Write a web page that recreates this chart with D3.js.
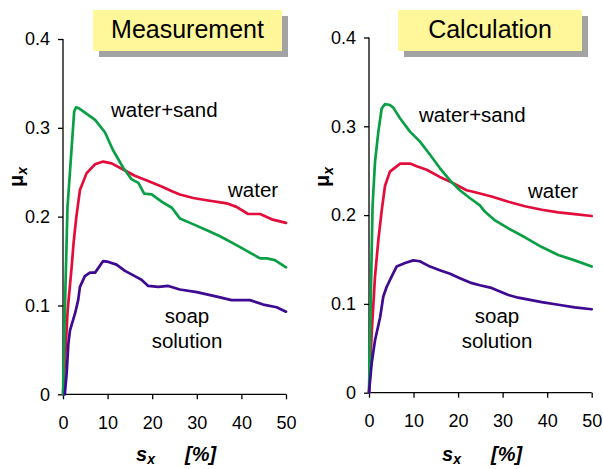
<!DOCTYPE html>
<html>
<head>
<meta charset="utf-8">
<script src="https://cdn.jsdelivr.net/npm/d3@7"></script>
<style>
  html, body { margin: 0; padding: 0; background: #fff; }
  svg { display: block; font-family: "Liberation Sans", Arial, sans-serif; }
</style>
</head>
<body>
<svg id="chart" width="603" height="469"></svg>
<script>
// ── Data (s_x in %, mu_x) ────────────────────────────────────────────────

var xTicks = [0, 10, 20, 30, 40, 50];
var yTicks = [0, 0.1, 0.2, 0.3, 0.4];

var measWaterSand = [[0,0],[0.5,0.11],[1.0,0.21],[2.5,0.318],[2.9,0.323],[3.6,0.322],[7.2,0.309],[9.4,0.295],[11.2,0.275],[13.5,0.255],[15.4,0.242],[16.9,0.238],[18.2,0.226],[19.9,0.225],[22.1,0.217],[24.4,0.210],[26.2,0.198],[28.5,0.193],[33.0,0.183],[35.2,0.178],[38.9,0.168],[44.2,0.153],[45.7,0.153],[47.5,0.151],[50,0.143]];
var measWater = [[0,0],[0.3,0.024],[1.05,0.095],[1.95,0.144],[2.4,0.172],[3.0,0.200],[3.8,0.230],[5.3,0.249],[7.2,0.259],[9.0,0.262],[10.9,0.260],[13.9,0.252],[16.1,0.246],[19.1,0.240],[22.1,0.234],[24.7,0.228],[26.2,0.225],[29.2,0.221],[31.5,0.219],[36.7,0.215],[38.9,0.211],[41.5,0.203],[44.2,0.203],[46.8,0.197],[50,0.193]];
var measSoap = [[0.4,0],[0.83,0.024],[1.2,0.057],[1.57,0.072],[2.7,0.091],[3.4,0.106],[3.8,0.121],[4.9,0.133],[6.05,0.137],[7.2,0.137],[9.0,0.150],[10.2,0.149],[12.0,0.146],[13.9,0.139],[16.1,0.133],[17.6,0.129],[19.1,0.122],[21.4,0.121],[23.6,0.122],[26.2,0.118],[30,0.115],[34.5,0.110],[37.8,0.106],[41.9,0.106],[44.9,0.101],[47.9,0.098],[50,0.093]];

var calcWaterSand = [[0,0],[0.8,0.21],[1.35,0.260],[2.1,0.294],[2.85,0.320],[3.6,0.325],[4.7,0.324],[5.45,0.321],[6.96,0.309],[9.2,0.294],[11.4,0.283],[13.7,0.268],[15.9,0.253],[18.2,0.239],[20.4,0.228],[22.7,0.219],[24.9,0.211],[26,0.204],[28.3,0.194],[31.3,0.185],[35,0.175],[38.8,0.164],[42.5,0.155],[46.2,0.149],[50,0.142]];
var calcWater = [[0,0],[0.6,0.067],[1.35,0.131],[2.1,0.172],[2.85,0.205],[3.6,0.233],[4.7,0.249],[7.0,0.258],[9.2,0.258],[10.7,0.255],[12.95,0.251],[15.9,0.243],[18.9,0.236],[21.9,0.228],[23.6,0.226],[27.5,0.221],[31.3,0.215],[35,0.210],[38.8,0.206],[42.5,0.203],[46.2,0.201],[50,0.199]];
var calcSoap = [[0,0],[0.6,0.033],[1.35,0.059],[2.5,0.085],[3.2,0.108],[3.95,0.119],[5.1,0.131],[6.2,0.142],[8.1,0.146],[9.95,0.149],[11.4,0.148],[13.7,0.142],[15.9,0.138],[18.2,0.134],[20.4,0.129],[22.7,0.124],[24.9,0.121],[27.5,0.118],[31.3,0.110],[33.5,0.107],[38.8,0.102],[42.5,0.099],[46.2,0.096],[50,0.094]];

// ── Layout ───────────────────────────────────────────────────────────────

var GREEN  = '#0a9f45';
var RED    = '#e30d3c';
var PURPLE = '#3d0a91';

var panels = [
  {
    title: 'Measurement',
    x0: 63, x1: 286, y0: 394.3, y1: 39,
    box: [93, 10, 189, 41],
    series: [measWater, measWaterSand, measSoap],
    sand: [111, 117], water: [228, 197], soap: [187, 323]
  },
  {
    title: 'Calculation',
    x0: 369, x1: 591.7, y0: 392.7, y1: 37.5,
    box: [398, 10, 184, 41],
    series: [calcWater, calcWaterSand, calcSoap],
    sand: [419, 122], water: [528, 198], soap: [497, 323]
  }
];
var colors = [RED, GREEN, PURPLE];

var svg = d3.select('#chart');

panels.forEach(function(p) {
  var x = d3.scaleLinear().domain([0, 50]).range([p.x0, p.x1]);
  var y = d3.scaleLinear().domain([0, 0.4]).range([p.y0, p.y1]);
  var g = svg.append('g');

  // title box with shadow
  g.append('rect')
    .attr('x', p.box[0] + 6).attr('y', p.box[1] + 6)
    .attr('width', p.box[2]).attr('height', p.box[3])
    .attr('fill', '#a3a3a3');
  g.append('rect')
    .attr('x', p.box[0]).attr('y', p.box[1])
    .attr('width', p.box[2]).attr('height', p.box[3])
    .attr('fill', '#fff799');
  g.append('text')
    .attr('x', p.box[0] + p.box[2] / 2).attr('y', p.box[1] + 28)
    .attr('text-anchor', 'middle')
    .attr('font-size', 25)
    .text(p.title);

  // axes
  var xAxis = d3.axisBottom(x).tickValues(xTicks).tickSize(5).tickPadding(17)
    .tickFormat(d3.format('d'));
  var yAxis = d3.axisLeft(y).tickValues(yTicks).tickSize(5).tickPadding(8)
    .tickFormat(function(d) { return d === 0 ? '0' : d3.format('.1f')(d); });

  var gx = g.append('g').attr('transform', 'translate(0,' + p.y0 + ')').call(xAxis);
  var gy = g.append('g').attr('transform', 'translate(' + p.x0 + ',0)').call(yAxis);
  [gx, gy].forEach(function(a) {
    a.select('.domain').attr('stroke', '#000').attr('stroke-width', 1.3);
    a.selectAll('.tick line').attr('stroke', '#000').attr('stroke-width', 1.3);
    a.selectAll('.tick text')
      .attr('font-size', 18)
      .attr('font-family', '"Liberation Sans", Arial, sans-serif')
      .attr('fill', '#000');
  });
  gx.select('.domain').attr('d', 'M' + p.x0 + ',0H' + p.x1);
  gy.select('.domain').attr('d', 'M0,' + p.y0 + 'V' + p.y1);

  // curves
  var line = d3.line()
    .x(function(d) { return x(d[0]); })
    .y(function(d) { return y(d[1]); });

  p.series.forEach(function(s, i) {
    g.append('path')
      .datum(s)
      .attr('d', line)
      .attr('fill', 'none')
      .attr('stroke', colors[i])
      .attr('stroke-width', 2.7)
      .attr('stroke-linejoin', 'round')
      .attr('stroke-linecap', 'round');
  });

  // curve labels
  g.append('text').attr('x', p.sand[0]).attr('y', p.sand[1])
    .attr('font-size', 20.5).text('water+sand');
  g.append('text').attr('x', p.water[0]).attr('y', p.water[1])
    .attr('font-size', 20.5).text('water');
  g.append('text').attr('x', p.soap[0]).attr('y', p.soap[1])
    .attr('font-size', 20.5).attr('text-anchor', 'middle').text('soap');
  g.append('text').attr('x', p.soap[0]).attr('y', p.soap[1] + 25)
    .attr('font-size', 20.5).attr('text-anchor', 'middle').text('solution');

  // axis titles
  var yl = g.append('text')
    .attr('transform', 'translate(' + (p.x0 - 40) + ',' + 177 + ') rotate(-90)')
    .attr('text-anchor', 'middle')
    .attr('font-size', 20).attr('font-weight', 'bold');
  yl.append('tspan').text('μ');
  yl.append('tspan').attr('font-size', 14).attr('font-style', 'italic').attr('dy', 4).text('x');

  var xl = g.append('text')
    .attr('x', p.x0 + 73).attr('y', 461)
    .attr('font-size', 20).attr('font-weight', 'bold').attr('font-style', 'italic');
  xl.append('tspan').text('s');
  xl.append('tspan').attr('font-size', 14).attr('dy', 3).text('x');
  g.append('text')
    .attr('x', p.x0 + 122).attr('y', 461)
    .attr('font-size', 20).attr('font-weight', 'bold').attr('font-style', 'italic')
    .text('[%]');
});
</script>
</body>
</html>
